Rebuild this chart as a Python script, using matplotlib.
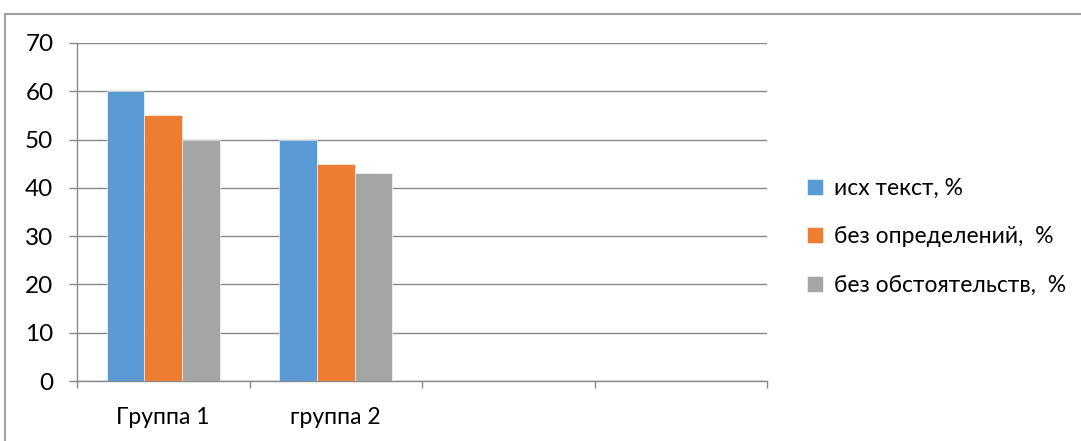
import numpy as np
import matplotlib.pyplot as plt
from matplotlib.patches import Rectangle

categories = ['Группа 1', 'группа 2', '', '']
series_names = ['исх текст, %', 'без определений,  %', 'без обстоятельств,  %']
values = [
    [60, 50],
    [55, 45],
    [50, 43],
]
colors = ['#5B9BD5', '#ED7D31', '#A5A5A5']

plt.rcParams['font.family'] = ['Lato', 'DejaVu Sans']
grid_color = '#898989'

fig = plt.figure(figsize=(10.81, 4.41), dpi=100)
ax = fig.add_axes([77 / 1081, 1 - 381 / 441, (767 - 77) / 1081, (381 - 43) / 441])

w = 0.218
handles = []
for j, (vals, name, color) in enumerate(zip(values, series_names, colors)):
    x = np.arange(len(vals)) + (j - 1) * w
    b = ax.bar(x, vals, width=w, color=color, label=name, zorder=3,
               edgecolor='white', linewidth=0.4)
    handles.append(b)

ax.set_xlim(-0.5, len(categories) - 0.5)
ax.set_ylim(0, 70)
ax.set_yticks(np.arange(0, 71, 10))
ax.set_xticks(np.arange(len(categories)))
ax.set_xticklabels(categories)
ax.set_xticks(np.arange(len(categories) + 1) - 0.5, minor=True)

ax.grid(axis='y', color=grid_color, linewidth=1, zorder=0)
ax.tick_params(axis='y', which='major', length=6, width=1, color=grid_color,
               pad=11, labelsize=17.5)
ax.tick_params(axis='x', which='major', length=0, pad=19, labelsize=16.5)
ax.tick_params(axis='x', which='minor', length=5, width=1, color=grid_color)

for s in ['top', 'right']:
    ax.spines[s].set_visible(False)
for s in ['left', 'bottom']:
    ax.spines[s].set_color(grid_color)
    ax.spines[s].set_linewidth(1)

fig.legend(handles=handles, loc='upper left', bbox_to_anchor=(786 / 1081, 1 - 157 / 441),
           frameon=False, fontsize=16.5, handlelength=0.7, handleheight=0.7,
           handletextpad=0.5, labelspacing=1.21)

# border frame around the chart
fig.patches.append(Rectangle((5 / 1081, -0.05), 1.1, 1 - 14 / 441 + 0.05,
                             transform=fig.transFigure, fill=False,
                             edgecolor='#a0a0a0', linewidth=1.5))

plt.savefig('out.png', dpi=100)
